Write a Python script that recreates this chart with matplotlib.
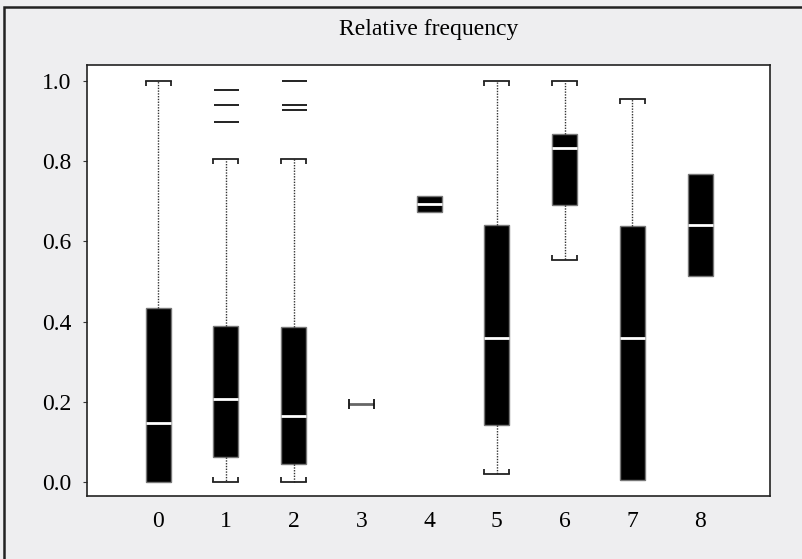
import matplotlib
matplotlib.use("Agg")
import matplotlib.pyplot as plt
from matplotlib.patches import Rectangle

plt.rcParams['font.family'] = ['Liberation Serif', 'DejaVu Serif']

categories = ['0', '1', '2', '3', '4', '5', '6', '7', '8']
medians = [0.148, 0.206, 0.165, 0.195, 0.694, 0.360, 0.834, 0.359, 0.640]
q1 = [0.000, 0.062, 0.044, 0.195, 0.674, 0.142, 0.692, 0.005, 0.514]
q3 = [0.435, 0.390, 0.387, 0.195, 0.713, 0.640, 0.869, 0.638, 0.767]
whisker_lo = [None, 0.001, 0.001, None, None, 0.020, 0.554, None, None]
whisker_hi = [1.000, 0.805, 0.805, None, None, 1.000, 1.000, 0.955, None]
outliers = [[], [0.978, 0.940, 0.897], [1.000, 0.940, 0.927], [], [], [], [], [], []]

box_w = 0.37
tick_len = 0.0125

stats = []
for i in range(len(categories)):
    lo = whisker_lo[i] if whisker_lo[i] is not None else q1[i]
    hi = whisker_hi[i] if whisker_hi[i] is not None else q3[i]
    stats.append(dict(label=categories[i], med=medians[i], q1=q1[i], q3=q3[i],
                      whislo=lo, whishi=hi, fliers=outliers[i]))

fig = plt.figure(figsize=(8.03, 5.59), dpi=100)
fig.patch.set_facecolor('#eeeef0')
ax = fig.add_axes([0.1083, 0.1127, 0.8506, 0.771])
ax.set_facecolor('white')

pos = list(range(len(categories)))
res = ax.bxp(stats, positions=pos, widths=box_w, patch_artist=True,
             boxprops=dict(facecolor='black', edgecolor='#777777', linewidth=1),
             medianprops=dict(color='white', linewidth=2),
             whiskerprops=dict(color='#333333', linestyle=(0, (1, 1)), linewidth=1),
             capprops=dict(color='#222222', linewidth=1.3),
             flierprops=dict(marker='_', markersize=18, markeredgewidth=1.4,
                             markeredgecolor='#222222', linestyle='none'),
             capwidths=box_w)

for i in pos:
    if whisker_lo[i] is None:
        res['whiskers'][2 * i].set_visible(False)
        res['caps'][2 * i].set_visible(False)
    else:
        ax.vlines([i - box_w / 2, i + box_w / 2], whisker_lo[i], whisker_lo[i] + tick_len,
                  color='#222222', linewidth=1.3)
    if whisker_hi[i] is None:
        res['whiskers'][2 * i + 1].set_visible(False)
        res['caps'][2 * i + 1].set_visible(False)
    else:
        ax.vlines([i - box_w / 2, i + box_w / 2], whisker_hi[i] - tick_len, whisker_hi[i],
                  color='#222222', linewidth=1.3)
    # flat box: all values equal, drawn as a bar with end ticks
    if q1[i] == q3[i]:
        res['boxes'][i].set_visible(False)
        res['medians'][i].set_visible(False)
        ax.hlines(medians[i], i - box_w / 2, i + box_w / 2, color='#666666', linewidth=2)
        ax.vlines([i - box_w / 2, i + box_w / 2], medians[i] - tick_len, medians[i] + tick_len,
                  color='#111111', linewidth=1.3)

ax.set_xlim(-1.05, 9.03)
ax.set_ylim(-0.035, 1.04)
ax.set_xticks(pos)
ax.set_xticklabels(categories)
ax.set_yticks([0.0, 0.2, 0.4, 0.6, 0.8, 1.0])
ax.set_yticklabels(['0.0', '0.2', '0.4', '0.6', '0.8', '1.0'])
ax.tick_params(axis='x', length=0, pad=11, labelsize=17)
ax.tick_params(axis='y', length=3, pad=8, labelsize=17, color='#333333')
for s in ax.spines.values():
    s.set_color('#222222')
    s.set_linewidth(1.2)

fig.text(0.5336, 1 - 30 / 559, 'Relative frequency', ha='center', va='center', fontsize=17)

fig.add_artist(Rectangle((0.005, -0.1), 1.2, 1.0875, transform=fig.transFigure,
                         fill=False, edgecolor='#222222', linewidth=1.8, clip_on=False))

fig.savefig('out.png', dpi=100, facecolor=fig.get_facecolor())
